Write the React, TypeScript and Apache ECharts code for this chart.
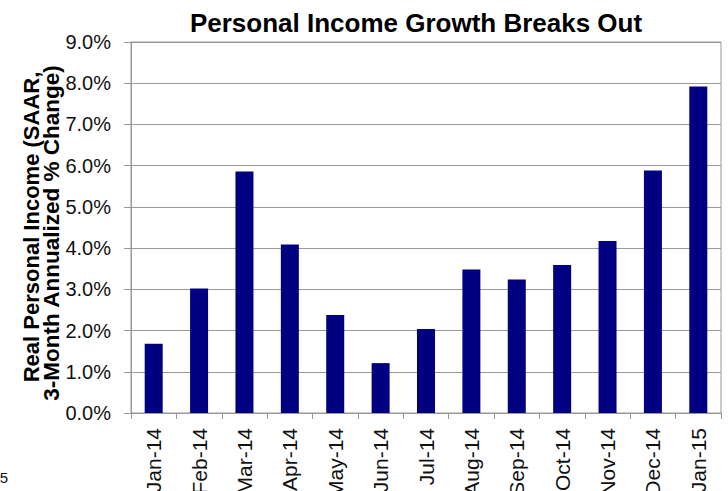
import React, { useEffect, useRef } from "react";
import * as echarts from "echarts";

const categories = ["Jan-14", "Feb-14", "Mar-14", "Apr-14", "May-14", "Jun-14", "Jul-14", "Aug-14", "Sep-14", "Oct-14", "Nov-14", "Dec-14", "Jan-15"];
const incomeGrowth = [1.68, 3.02, 5.86, 4.09, 2.38, 1.21, 2.04, 3.48, 3.24, 3.59, 4.17, 5.88, 7.92];
const title = "Personal Income Growth Breaks Out";
const yNameLines = ["Real Personal Income (SAAR,", "3-Month Annualized % Change)"];
const footnote = "5";

export default function App() {
  const ref = useRef<HTMLDivElement>(null);
  useEffect(() => {
    if (!ref.current) return;
    const chart = echarts.init(ref.current, null, { renderer: "svg" });
    const font = "Liberation Sans, Arial, sans-serif";
    chart.setOption({
      animation: false,
      backgroundColor: "#ffffff",
      textStyle: { fontFamily: font },
      grid: { left: 131, right: 7, top: 42, bottom: 78, show: true, borderColor: "#999", borderWidth: 1, containLabel: false, outerBoundsMode: "none" },
      xAxis: {
        type: "category",
        data: categories,
        axisLine: { lineStyle: { color: "#999", width: 1 } },
        axisTick: { show: true, length: 6, interval: 0, lineStyle: { color: "#999" } },
        axisLabel: { rotate: 90, interval: 0, fontSize: 21, color: "#111", margin: 15, fontFamily: font },
      },
      yAxis: {
        type: "value",
        min: 0,
        max: 9,
        interval: 1,
        axisLine: { show: true, lineStyle: { color: "#999", width: 1 } },
        axisTick: { show: true, length: 7, inside: false, lineStyle: { color: "#999" } },
        splitLine: { lineStyle: { color: "#999", width: 1 } },
        axisLabel: { fontSize: 20, color: "#111", margin: 20, fontFamily: font, formatter: (v: number) => v.toFixed(1) + "%" },
      },
      series: [
        {
          type: "bar",
          data: incomeGrowth,
          barWidth: 18,
          itemStyle: { color: "#000080" },
        },
      ],
      graphic: [
        {
          type: "text",
          x: 416,
          y: 23,
          style: { text: title, font: `bold 26px ${font}`, fill: "#000", align: "center", verticalAlign: "middle", textAlign: "center", textVerticalAlign: "middle" },
        },
        {
          type: "text",
          x: 31,
          y: 227,
          rotation: Math.PI / 2,
          style: { text: yNameLines[0], font: `bold 22px ${font}`, fill: "#000", align: "center", verticalAlign: "middle", textAlign: "center", textVerticalAlign: "middle" },
        },
        {
          type: "text",
          x: 51,
          y: 233,
          rotation: Math.PI / 2,
          style: { text: yNameLines[1], font: `bold 22.5px ${font}`, fill: "#000", align: "center", verticalAlign: "middle", textAlign: "center", textVerticalAlign: "middle" },
        },
        {
          type: "text",
          x: 8,
          y: 477.5,
          style: { text: footnote, font: `15px ${font}`, fill: "#111", align: "right", verticalAlign: "middle", textAlign: "right", textVerticalAlign: "middle" },
        },
      ],
    });
    return () => chart.dispose();
  }, []);
  return <div ref={ref} style={{ position: "fixed", left: 0, top: 0, width: 728, height: 491 }} />;
}
